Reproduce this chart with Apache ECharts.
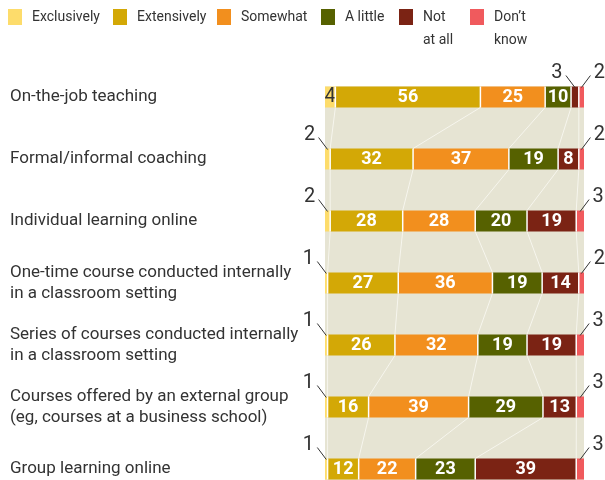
<!DOCTYPE html>
<html>
<head>
<meta charset="utf-8">
<script src="https://cdn.jsdelivr.net/npm/echarts@6/dist/echarts.min.js"></script>
<style>
  html, body { margin: 0; padding: 0; background: #fff; overflow: hidden; }
  /* the last row is cut off at the bottom edge in the original */
  #chart { width: 605px; height: 500px; }
</style>
</head>
<body>
<div id="chart"></div>
<script>
var categories = [
  'On-the-job teaching',
  'Formal/informal coaching',
  'Individual learning online',
  'One-time course conducted internally\nin a classroom setting',
  'Series of courses conducted internally\nin a classroom setting',
  'Courses offered by an external group\n(eg, courses at a business school)',
  'Group learning online'
];
var seriesNames = ['Exclusively', 'Extensively', 'Somewhat', 'A little', 'Not at all', "Don't know"];
var exclusively = [4, 2, 2, 1, 1, 1, 1];
var extensively = [56, 32, 28, 27, 26, 16, 12];
var somewhat    = [25, 37, 28, 36, 32, 39, 22];
var aLittle     = [10, 19, 20, 19, 19, 29, 23];
var notAtAll    = [3, 8, 19, 14, 19, 13, 39];
var dontKnow    = [2, 2, 3, 2, 3, 3, 3];
var colors = ['#fddc6b', '#d3a806', '#f28f1e', '#566100', '#7b2314', '#f05a5d'];

var FONT = "Roboto, sans-serif";
var BAR_H = 21;

var allSeries = [exclusively, extensively, somewhat, aLittle, notAtAll, dontKnow];
var totals = categories.map(function (c, i) {
  var s = 0;
  allSeries.forEach(function (arr) { s += arr[i]; });
  return s;
});
// rows are drawn full width, like the original (some rows add up to 99 or 101)
function share(arr, i) { return arr[i] / totals[i] * 100; }
function cum(i, k) {
  var s = 0;
  for (var j = 0; j < k; j++) s += share(allSeries[j], i);
  return s;
}

var chart = echarts.init(document.getElementById('chart'));

var barSeries = seriesNames.map(function (name, k) {
  return {
    name: name,
    type: 'bar',
    stack: 'all',
    barWidth: BAR_H,
    z: 3,
    itemStyle: { color: colors[k] },
    label: {
      show: true,
      position: 'inside',
      fontFamily: FONT,
      fontSize: 18,
      fontWeight: 'bold',
      color: '#fff',
      formatter: function (p) {
        var v = allSeries[k][p.dataIndex];
        return (v < 4 || k === 5) ? '' : v;
      }
    },
    data: allSeries[k].map(function (v, i) {
      var item = { value: share(allSeries[k], i) };
      if (k === 0) item.label = { color: '#333', fontWeight: 'normal', fontSize: 20 };
      return item;
    })
  };
});

// legend: one block per entry so each sits where it does in the original
var legendLefts = [8, 113, 217, 321, 399, 470];
var legendFirst = ['Exclusively', 'Extensively', 'Somewhat', 'A little', 'Not', 'Don\u2019t'];
var legendSecond = ['', '', '', '', 'at all', 'know'];
var legends = seriesNames.map(function (name, k) {
  return {
    data: [name],
    left: legendLefts[k],
    top: 9,
    padding: 0,
    itemWidth: 14,
    itemHeight: 16,
    icon: 'rect',
    selectedMode: false,
    formatter: function () { return legendFirst[k]; },
    textStyle: {
      fontFamily: FONT,
      fontSize: 14,
      color: '#333',
      padding: [3, 0, 0, 5]
    }
  };
});
var legendGraphics = legendSecond.map(function (t, k) {
  return {
    type: 'text',
    left: legendLefts[k] + 24,
    top: 33,
    style: { text: t, fontFamily: FONT, fontSize: 14, fill: '#333' }
  };
}).filter(function (g) { return g.style.text; });

var option = {
  animation: false,
  color: colors,
  legend: legends,
  graphic: legendGraphics,
  grid: { left: 325, right: 21, top: 66, bottom: 0 },
  xAxis: {
    type: 'value', min: 0, max: 100, show: false
  },
  yAxis: {
    type: 'category',
    inverse: true,
    data: categories,
    axisLine: { show: false },
    axisTick: { show: false },
    axisLabel: {
      align: 'left',
      margin: 315,
      fontFamily: FONT,
      fontSize: 17,
      lineHeight: 21,
      color: '#333'
    }
  },
  series: [
    {
      // beige panel behind the bars
      type: 'custom',
      z: 1,
      silent: true,
      data: [[0, 0]],
      renderItem: function (params, api) {
        var a = api.coord([0, 0]);
        var b = api.coord([100, categories.length - 1]);
        return {
          type: 'rect',
          shape: { x: a[0], y: a[1] - BAR_H / 2, width: b[0] - a[0], height: b[1] - a[1] + BAR_H + 40 },
          style: { fill: '#e6e4d3' }
        };
      }
    }
  ].concat(barSeries).concat([
    {
      // separators, connectors and small outside values
      type: 'custom',
      z: 5,
      silent: true,
      data: categories.map(function (c, i) { return [0, i]; }),
      renderItem: function (params, api) {
        var i = params.dataIndex;
        var children = [];
        for (var k = 1; k < seriesNames.length; k++) {
          var p = api.coord([cum(i, k), i]);
          children.push({
            type: 'line',
            shape: { x1: p[0], y1: p[1] - BAR_H / 2, x2: p[0], y2: p[1] + BAR_H / 2 },
            style: { stroke: '#fff', lineWidth: 1.5 }
          });
          if (i < categories.length - 1) {
            var q = api.coord([cum(i + 1, k), i + 1]);
            children.push({
              type: 'line',
              shape: { x1: p[0], y1: p[1] + BAR_H / 2, x2: q[0], y2: q[1] - BAR_H / 2 },
              style: { stroke: '#f7f6ee', lineWidth: 1 }
            });
          }
        }
        for (var s = 0; s < seriesNames.length; s++) {
          var v = allSeries[s][i];
          if (!(v < 4 || s === 5)) continue;
          var mid = api.coord([cum(i, s) + share(allSeries[s], i) / 2, i]);
          var dir = s === 5 ? 1 : -1;
          var top = mid[1] - BAR_H / 2;
          children.push({
            type: 'line',
            shape: { x1: mid[0], y1: top + 1, x2: mid[0] + dir * 9, y2: top - 11 },
            style: { stroke: '#333', lineWidth: 1 }
          });
          children.push({
            type: 'text',
            style: {
              x: mid[0] + dir * 18, y: top - 14,
              text: String(v),
              fontFamily: FONT, fontSize: 20,
              fill: '#333',
              align: 'center', verticalAlign: 'middle'
            }
          });
        }
        return { type: 'group', children: children };
      }
    }
  ])
};
chart.setOption(option);
</script>
</body>
</html>
